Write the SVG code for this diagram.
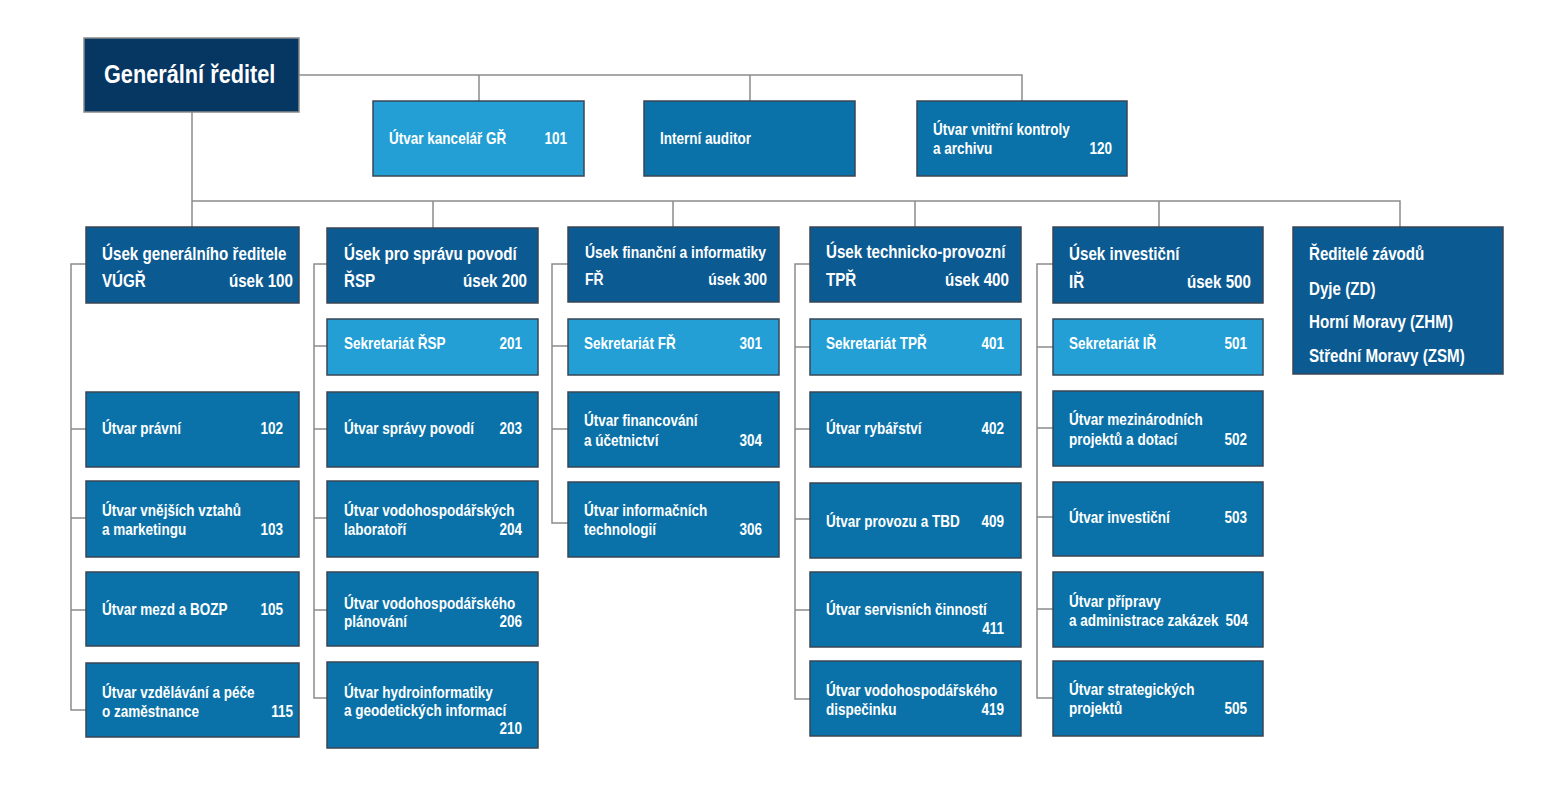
<svg xmlns="http://www.w3.org/2000/svg" width="1561" height="802" viewBox="0 0 1561 802">
<style>
text{font-family:"Liberation Sans",Arial,sans-serif;font-weight:bold;fill:#ffffff;transform:scale(0.82,1);transform-origin:0 0}
.s{font-size:16.5px}
.h{font-size:18.5px}
.h3{font-size:17px}
.g{font-size:26.5px}
.e{text-anchor:end}
.gr{fill:#063662;stroke:#8a8a8a;stroke-width:1.5}
.hd{fill:#0b5a92;stroke:#3a4654;stroke-width:1.5}
.bd{fill:#0a72a8;stroke:#3a4654;stroke-width:1.5}
.sk{fill:#239fd6;stroke:#3a4654;stroke-width:1.5}
#connectors path{fill:none;stroke:#8c8c8c;stroke-width:1.5}
</style>
<rect width="1561" height="802" fill="#ffffff"/>
<g id="connectors">
<path d="M299,75 H1022 V101 M479,75 V101 M750,75 V101"/>
<path d="M192,112 V227 M192,201 H1400 V227 M433,201 V228 M673,201 V227 M915,201 V227 M1159,201 V227"/>
<path d="M86,264 H71 V710 H86 M71,429 H86 M71,518 H86 M71,610 H86"/>
<path d="M327,264 H314 V698 H327 M314,346 H327 M314,429 H327 M314,518 H327 M314,610 H327"/>
<path d="M568,264 H552 V523 H568 M552,346 H568 M552,429 H568"/>
<path d="M810,264 H795 V699 H810 M795,347 H810 M795,429 H810 M795,519 H810 M795,610 H810"/>
<path d="M1053,264 H1037 V698 H1053 M1037,347 H1053 M1037,428 H1053 M1037,517 H1053 M1037,609 H1053"/>
</g>
<g id="gr"><rect class="gr" x="84" y="38" width="215" height="74"/><text class="g" x="126.8" y="83">Generální ředitel</text></g>
<g id="u101"><rect class="sk" x="373" y="101" width="211" height="75"/><text class="s" x="474.4" y="144">Útvar kancelář GŘ</text><text class="s e" x="691.5" y="144">101</text></g>
<g id="auditor"><rect class="bd" x="644" y="101" width="211" height="75"/><text class="s" x="804.9" y="144">Interní auditor</text></g>
<g id="u120"><rect class="bd" x="917" y="101" width="210" height="75"/><text class="s" x="1137.8" y="135">Útvar vnitřní kontroly</text><text class="s" x="1137.8" y="154">a archivu</text><text class="s e" x="1356.1" y="154">120</text></g>

<g id="usek100"><rect class="hd" x="86" y="227" width="213" height="76"/><text class="h" x="124.4" y="260">Úsek generálního ředitele</text><text class="h" x="124.4" y="287">VÚGŘ</text><text class="h e" x="357.3" y="287">úsek 100</text></g>
<g id="u102"><rect class="bd" x="86" y="392" width="213" height="75"/><text class="s" x="124.4" y="434">Útvar právní</text><text class="s e" x="345.1" y="434">102</text></g>
<g id="u103"><rect class="bd" x="86" y="481" width="213" height="76"/><text class="s" x="124.4" y="516">Útvar vnějších vztahů</text><text class="s" x="124.4" y="535">a marketingu</text><text class="s e" x="345.1" y="535">103</text></g>
<g id="u105"><rect class="bd" x="86" y="572" width="213" height="74"/><text class="s" x="124.4" y="615">Útvar mezd a BOZP</text><text class="s e" x="345.1" y="615">105</text></g>
<g id="u115"><rect class="bd" x="86" y="663" width="213" height="74"/><text class="s" x="124.4" y="698">Útvar vzdělávání a péče</text><text class="s" x="124.4" y="717">o zaměstnance</text><text class="s e" x="357.3" y="717">115</text></g>

<g id="usek200"><rect class="hd" x="327" y="228" width="211" height="75"/><text class="h" x="419.5" y="260">Úsek pro správu povodí</text><text class="h" x="419.5" y="287">ŘSP</text><text class="h e" x="642.7" y="287">úsek 200</text></g>
<g id="u201"><rect class="sk" x="327" y="319" width="211" height="56"/><text class="s" x="419.5" y="349">Sekretariát ŘSP</text><text class="s e" x="636.6" y="349">201</text></g>
<g id="u203"><rect class="bd" x="327" y="392" width="211" height="75"/><text class="s" x="419.5" y="434">Útvar správy povodí</text><text class="s e" x="636.6" y="434">203</text></g>
<g id="u204"><rect class="bd" x="327" y="481" width="211" height="76"/><text class="s" x="419.5" y="516">Útvar vodohospodářských</text><text class="s" x="419.5" y="535">laboratoří</text><text class="s e" x="636.6" y="535">204</text></g>
<g id="u206"><rect class="bd" x="327" y="572" width="211" height="74"/><text class="s" x="419.5" y="609">Útvar vodohospodářského</text><text class="s" x="419.5" y="627">plánování</text><text class="s e" x="636.6" y="627">206</text></g>
<g id="u210"><rect class="bd" x="327" y="662" width="211" height="86"/><text class="s" x="419.5" y="698">Útvar hydroinformatiky</text><text class="s" x="419.5" y="716">a geodetických informací</text><text class="s e" x="636.6" y="734">210</text></g>

<g id="usek300"><rect class="hd" x="568" y="227" width="211" height="75"/><text class="h3" x="713.4" y="258">Úsek finanční a informatiky</text><text class="h3" x="713.4" y="285">FŘ</text><text class="h3 e" x="935.4" y="285">úsek 300</text></g>
<g id="u301"><rect class="sk" x="568" y="319" width="211" height="56"/><text class="s" x="712.2" y="349">Sekretariát FŘ</text><text class="s e" x="929.3" y="349">301</text></g>
<g id="u304"><rect class="bd" x="568" y="392" width="211" height="75"/><text class="s" x="712.2" y="426">Útvar financování</text><text class="s" x="712.2" y="446">a účetnictví</text><text class="s e" x="929.3" y="446">304</text></g>
<g id="u306"><rect class="bd" x="568" y="482" width="211" height="75"/><text class="s" x="712.2" y="516">Útvar informačních</text><text class="s" x="712.2" y="535">technologií</text><text class="s e" x="929.3" y="535">306</text></g>

<g id="usek400"><rect class="hd" x="810" y="227" width="211" height="75"/><text class="h" x="1007.3" y="258">Úsek technicko-provozní</text><text class="h" x="1007.3" y="286">TPŘ</text><text class="h e" x="1230.5" y="286">úsek 400</text></g>
<g id="u401"><rect class="sk" x="810" y="319" width="211" height="56"/><text class="s" x="1007.3" y="349">Sekretariát TPŘ</text><text class="s e" x="1224.4" y="349">401</text></g>
<g id="u402"><rect class="bd" x="810" y="392" width="211" height="75"/><text class="s" x="1007.3" y="434">Útvar rybářství</text><text class="s e" x="1224.4" y="434">402</text></g>
<g id="u409"><rect class="bd" x="810" y="483" width="211" height="75"/><text class="s" x="1007.3" y="527">Útvar provozu a TBD</text><text class="s e" x="1224.4" y="527">409</text></g>
<g id="u411"><rect class="bd" x="810" y="572" width="211" height="75"/><text class="s" x="1007.3" y="615">Útvar servisních činností</text><text class="s e" x="1224.4" y="634">411</text></g>
<g id="u419"><rect class="bd" x="810" y="661" width="211" height="75"/><text class="s" x="1007.3" y="696">Útvar vodohospodářského</text><text class="s" x="1007.3" y="715">dispečinku</text><text class="s e" x="1224.4" y="715">419</text></g>

<g id="usek500"><rect class="hd" x="1053" y="227" width="210" height="76"/><text class="h" x="1303.7" y="260">Úsek investiční</text><text class="h" x="1303.7" y="288">IŘ</text><text class="h e" x="1525.6" y="288">úsek 500</text></g>
<g id="u501"><rect class="sk" x="1053" y="319" width="210" height="56"/><text class="s" x="1303.7" y="349">Sekretariát IŘ</text><text class="s e" x="1520.7" y="349">501</text></g>
<g id="u502"><rect class="bd" x="1053" y="391" width="210" height="75"/><text class="s" x="1303.7" y="425">Útvar mezinárodních</text><text class="s" x="1303.7" y="445">projektů a dotací</text><text class="s e" x="1520.7" y="445">502</text></g>
<g id="u503"><rect class="bd" x="1053" y="482" width="210" height="74"/><text class="s" x="1303.7" y="523">Útvar investiční</text><text class="s e" x="1520.7" y="523">503</text></g>
<g id="u504"><rect class="bd" x="1053" y="572" width="210" height="75"/><text class="s" x="1303.7" y="607">Útvar přípravy</text><text class="s" x="1303.7" y="626">a administrace zakázek</text><text class="s e" x="1522" y="626">504</text></g>
<g id="u505"><rect class="bd" x="1053" y="661" width="210" height="75"/><text class="s" x="1303.7" y="695">Útvar strategických</text><text class="s" x="1303.7" y="714">projektů</text><text class="s e" x="1520.7" y="714">505</text></g>

<g id="reditele"><rect class="hd" x="1293" y="227" width="210" height="147"/><text class="h" x="1596.3" y="260">Ředitelé závodů</text><text class="h" x="1596.3" y="295">Dyje (ZD)</text><text class="h" x="1596.3" y="328">Horní Moravy (ZHM)</text><text class="h" x="1596.3" y="362">Střední Moravy (ZSM)</text></g>
</svg>
